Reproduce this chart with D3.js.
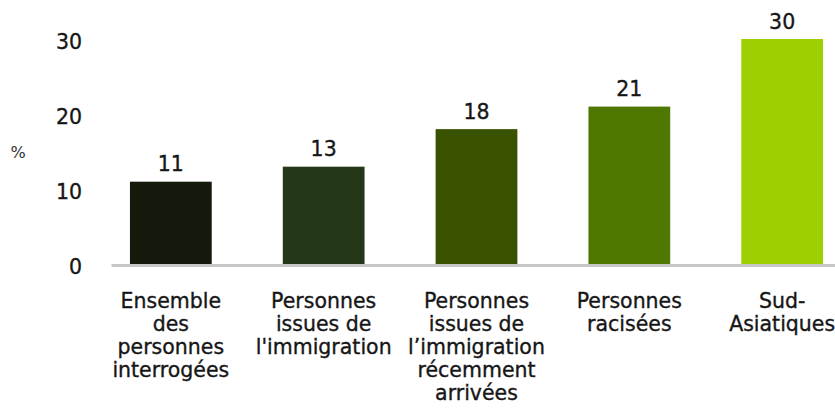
<!DOCTYPE html>
<html>
<head>
<meta charset="utf-8">
<script src="https://cdn.jsdelivr.net/npm/d3@7"></script>
<style>
  html, body { margin: 0; padding: 0; background: #ffffff; }
  svg { display: block; }
</style>
</head>
<body>
<svg id="chart" width="835" height="409"></svg>
<script>
// Groups shown on the x axis (each split into its display lines)
const categories = [
  "Ensemble des personnes interrogées",
  "Personnes issues de l'immigration",
  "Personnes issues de l’immigration récemment arrivées",
  "Personnes racisées",
  "Sud-Asiatiques"
];
const categoryLines = [
  ["Ensemble", "des", "personnes", "interrogées"],
  ["Personnes", "issues de", "l'immigration"],
  ["Personnes", "issues de", "l’immigration", "récemment", "arrivées"],
  ["Personnes", "racisées"],
  ["Sud-", "Asiatiques"]
];
// Share of each group, in percent
const values = [11, 13, 18, 21, 30];
const barColors = ["#131a0b", "#243817", "#385200", "#4e7800", "#9ecf00"];
const yTicks = [0, 10, 20, 30];
const yUnit = "%";

const svg = d3.select("#chart");
const font = "'DejaVu Sans', sans-serif";
const ink = "#161616";

// Slightly heavier strokes on text for a medium weight
function heavy(sel) {
  sel.attr("stroke", ink).attr("stroke-width", 0.35).attr("paint-order", "stroke");
}

const x = d3.scaleBand()
  .domain(categories)
  .range([111, 842])
  .paddingInner(0.465)
  .paddingOuter(0.124);

const y = d3.scaleLinear()
  .domain([0, 30])
  .range([264.3, 39]);

// y axis: labels only, no line or ticks
const yAxis = d3.axisLeft(y)
  .tickValues(yTicks)
  .tickSize(0)
  .tickPadding(0);

const yg = svg.append("g")
  .attr("transform", "translate(82,0)")
  .call(yAxis);
yg.select(".domain").remove();
yg.selectAll("text")
  .attr("font-family", font)
  .attr("font-size", 20.5)
  .attr("fill", ink)
  .attr("dy", "0.45em")
  .call(heavy);

svg.append("text")
  .attr("x", 18)
  .attr("y", 152)
  .attr("text-anchor", "middle")
  .attr("dominant-baseline", "central")
  .attr("font-family", font)
  .attr("font-size", 16)
  .attr("fill", "#333333")
  .text(yUnit);

// Bars
svg.append("g").selectAll("rect")
  .data(values)
  .join("rect")
  .attr("x", (d, i) => x(categories[i]))
  .attr("width", x.bandwidth())
  .attr("y", d => y(d))
  .attr("height", d => y(0) - y(d))
  .attr("fill", (d, i) => barColors[i]);

// Value labels above bars
svg.append("g").selectAll("text")
  .data(values)
  .join("text")
  .attr("x", (d, i) => x(categories[i]) + x.bandwidth() / 2)
  .attr("y", d => y(d) - 10.5)
  .attr("text-anchor", "middle")
  .attr("font-family", font)
  .attr("font-size", 20.5)
  .attr("fill", ink)
  .call(heavy)
  .text(d => d);

// Baseline
const xAxis = d3.axisBottom(x).tickSize(0).tickFormat("");
const xg = svg.append("g")
  .attr("transform", "translate(0,265)")
  .call(xAxis);
xg.select(".domain")
  .attr("stroke", "#c6c6c6")
  .attr("stroke-width", 3);

// Category labels, multi-line
const labels = svg.append("g").selectAll("text")
  .data(categories)
  .join("text")
  .attr("x", d => x(d) + x.bandwidth() / 2)
  .attr("y", 308)
  .attr("text-anchor", "middle")
  .attr("font-family", font)
  .attr("font-size", 20.5)
  .attr("fill", ink)
  .call(heavy);

labels.each(function (d, i) {
  const t = d3.select(this);
  categoryLines[i].forEach((line, j) => {
    t.append("tspan")
      .attr("x", x(d) + x.bandwidth() / 2)
      .attr("y", 308 + j * 23)
      .text(line);
  });
});
</script>
</body>
</html>
